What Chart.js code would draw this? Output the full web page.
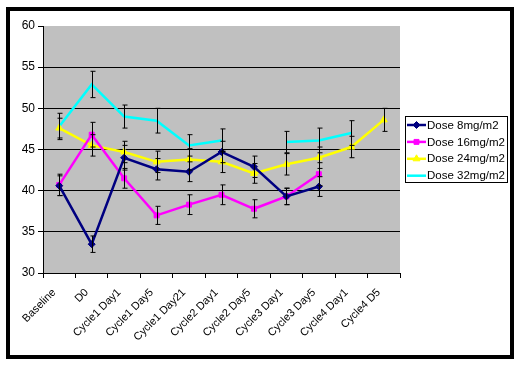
<!DOCTYPE html>
<html>
<head>
<meta charset="utf-8">
<script src="https://cdn.jsdelivr.net/npm/chart.js@4.4.1/dist/chart.umd.min.js"></script>
<style>
  html, body { margin:0; padding:0; background:#fff; }
  #wrap { position:relative; width:520px; height:366px; }
  #frame { position:absolute; left:6px; top:7px; width:500px; height:344px; border:4px solid #000; pointer-events:none; }
  canvas { position:absolute; left:0; top:0; }
</style>
</head>
<body>
<div id="wrap">
  <canvas id="chart" width="520" height="366"></canvas>
  <div id="frame"></div>
</div>
<script>
// categories on the x axis
var labels = ['Baseline','D0','Cycle1 Day1','Cycle1 Day5','Cycle1 Day21','Cycle2 Day1','Cycle2 Day5','Cycle3 Day1','Cycle3 Day5','Cycle4 Day1','Cycle4 D5'];

// mean values per dose
var dose8  = [40.6, 33.5, 44.0, 42.6, 42.3, 44.7, 42.9, 39.3, 40.5, null, null];
var dose16 = [40.7, 46.8, 41.5, 37.0, 38.3, 39.5, 37.8, 39.3, 42.0, null, null];
var dose24 = [47.6, 45.5, 44.7, 43.5, 43.8, 43.5, 42.1, 43.2, 44.0, 45.3, 48.6];
var dose32 = [47.8, 52.9, 49.0, 48.5, 45.5, 46.1, null, 45.9, 46.1, 47.0, null];

// error bar half widths
var err8  = [1.2, 1.0, 1.5, 1.3, 1.2, 1.3, 1.3, 1.0, 1.2, null, null];
var err16 = [1.3, 1.5, 1.2, 1.1, 1.2, 1.2, 1.1, 1.0, 1.4, null, null];
var err24 = [1.2, 1.3, 1.3, 1.3, 1.3, 1.3, 1.2, 1.3, 1.3, 1.3, 1.4];
var err32 = [1.6, 1.6, 1.4, 1.5, 1.3, 1.4, null, 1.3, 1.5, 1.5, null];

var yTicks = [30, 35, 40, 45, 50, 55, 60];

var FONT = '"Liberation Sans", Arial, sans-serif';

var plotBg = {
  id: 'plotBg',
  beforeDraw: function(chart) {
    var a = chart.chartArea, ctx = chart.ctx;
    ctx.save();
    ctx.fillStyle = '#c0c0c0';
    ctx.fillRect(a.left, a.top, a.right - a.left, a.bottom - a.top);
    ctx.restore();
  }
};

var errorBars = {
  id: 'errorBars',
  afterDatasetsDraw: function(chart) {
    var ctx = chart.ctx, y = chart.scales.y;
    ctx.save();
    ctx.strokeStyle = '#000';
    ctx.lineWidth = 1;
    chart.data.datasets.forEach(function(ds, i) {
      var meta = chart.getDatasetMeta(i);
      ds.data.forEach(function(v, j) {
        var e = ds.errors[j];
        if (v == null || e == null) return;
        var x = Math.round(meta.data[j].x) + 0.5;
        var top = y.getPixelForValue(v + e), bot = y.getPixelForValue(v - e);
        ctx.beginPath();
        ctx.moveTo(x, top); ctx.lineTo(x, bot);
        ctx.moveTo(x - 2, top); ctx.lineTo(x + 3, top);
        ctx.moveTo(x - 2, bot); ctx.lineTo(x + 3, bot);
        ctx.stroke();
      });
    });
    ctx.restore();
  }
};

var legendBox = {
  id: 'legendBox',
  afterDraw: function(chart) {
    var ctx = chart.ctx;
    var bx = 405.5, by = 116.5, bw = 102, bh = 66;
    ctx.save();
    ctx.fillStyle = '#fff';
    ctx.fillRect(bx, by, bw, bh);
    ctx.strokeStyle = '#000';
    ctx.lineWidth = 1;
    ctx.strokeRect(bx, by, bw, bh);
    ctx.font = '11.5px ' + FONT;
    ctx.textBaseline = 'middle';
    chart.data.datasets.forEach(function(ds, i) {
      var cy = 125 + i * 16.9;
      ctx.strokeStyle = ds.borderColor;
      ctx.lineWidth = 2.5;
      ctx.beginPath();
      ctx.moveTo(407, cy); ctx.lineTo(426, cy);
      ctx.stroke();
      if (ds.pointRadius > 0) {
        ctx.fillStyle = ds.borderColor;
        ctx.lineWidth = 1;
        Chart.helpers.drawPoint(ctx, {
          pointStyle: ds.pointStyle, radius: ds.pointRadius, borderWidth: 1
        }, 416.5, cy);
      }
      ctx.fillStyle = '#000';
      ctx.fillText(ds.label, 427, cy + 0.5);
    });
    ctx.restore();
  }
};

function series(label, data, errors, color, style, radius) {
  return {
    label: label, data: data, errors: errors,
    borderColor: color, backgroundColor: color,
    pointBackgroundColor: color, pointBorderColor: color,
    borderWidth: 2.5, pointStyle: style, pointRadius: radius,
    pointBorderWidth: 1, tension: 0, spanGaps: false
  };
}

new Chart(document.getElementById('chart'), {
  type: 'line',
  data: {
    labels: labels,
    datasets: [
      series('Dose 8mg/m2',  dose8,  err8,  '#000080', 'rectRot', 3.5),
      series('Dose 16mg/m2', dose16, err16, '#ff00ff', 'rect', 3.5),
      series('Dose 24mg/m2', dose24, err24, '#ffff00', 'triangle', 4),
      series('Dose 32mg/m2', dose32, err32, '#00ffff', 'crossRot', 0)
    ]
  },
  options: {
    responsive: false,
    animation: false,
    layout: { padding: { left: 0, top: 26, right: 120, bottom: 0 } },
    plugins: { legend: { display: false }, tooltip: { enabled: false } },
    scales: {
      x: {
        offset: true,
        grid: { offset: true, drawOnChartArea: false, drawTicks: true, tickLength: 5, color: '#000' },
        border: { color: '#000', width: 1 },
        ticks: { minRotation: 45, maxRotation: 45, autoSkip: false, color: '#000', padding: 8, labelOffset: -5, font: { family: FONT, size: 11 } },
        afterFit: function(s) { s.height = 93; }
      },
      y: {
        min: 30, max: 60,
        afterBuildTicks: function(s) { s.ticks = yTicks.map(function(v) { return { value: v }; }); },
        grid: {
          color: function(c) { return (c.tick && (c.tick.value === 60 || c.tick.value === 30)) ? 'rgba(0,0,0,0)' : '#000'; },
          tickColor: '#000', tickLength: 5, drawTicks: true
        },
        border: { color: '#000', width: 1 },
        ticks: { color: '#000', padding: 3, font: { family: FONT, size: 12 } },
        afterFit: function(s) { s.width = 43; }
      }
    }
  },
  plugins: [plotBg, errorBars, legendBox]
});
</script>
</body>
</html>
